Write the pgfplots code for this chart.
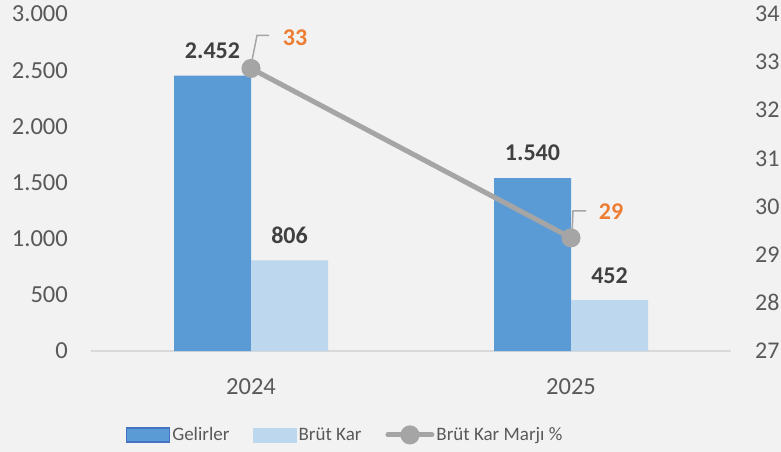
\documentclass[border=0pt]{standalone}
\usepackage{fontspec}
\setmainfont{Carlito}
\usepackage{pgfplots}
\pgfplotsset{compat=1.18}
\definecolor{bgc}{HTML}{F2F2F2}
\definecolor{gel}{HTML}{5B9BD5}
\definecolor{gelb}{HTML}{4472C4}
\definecolor{gelo}{HTML}{8FAADC}
\definecolor{brut}{HTML}{BDD7EE}
\definecolor{lineg}{HTML}{A5A5A5}
\definecolor{orng}{HTML}{ED7D31}
\definecolor{tickc}{HTML}{595959}
\definecolor{labc}{HTML}{404040}
\definecolor{basec}{HTML}{D9D9D9}
\pgfplotsset{
  barleg/.style={legend image code/.code={\draw[##1] (0pt,-7pt) rectangle (43pt,7pt);}},
  lineleg/.style={legend image code/.code={%
    \draw[##1, mark repeat=2, mark phase=2] plot coordinates {(0pt,0pt) (22pt,0pt) (44pt,0pt)};}},
}
\begin{document}
\begin{tikzpicture}[x=1pt,y=1pt]
\fill[bgc] (-91,-101) rectangle (690,351);
\begin{axis}[
  at={(0,0)}, anchor=south west,
  scale only axis, width=640pt, height=337pt,
  xmin=-0.5, xmax=1.5, ymin=0, ymax=3000,
  ybar=0pt, bar width=77pt,
  xtick={0,1}, xticklabels={2024,2025},
  ytick={0,500,...,3000},
  scaled y ticks=false,
  axis x line*=bottom, axis y line*=left,
  x axis line style={draw=basec, line width=1.5pt},
  y axis line style={draw=none},
  tick style={draw=none},
  /pgf/number format/.cd, 1000 sep={.}, assume math mode=true,
  /pgfplots/.cd,
  yticklabel style={anchor=east, inner sep=0pt, xshift=-23pt, font=\fontsize{24.5}{24.5}\selectfont, text=tickc},
  xticklabel style={anchor=center, inner sep=0pt, yshift=-31pt, font=\fontsize{24.5}{24.5}\selectfont, text=tickc},
  nodes near coords,
  every node near coord/.append style={font=\bfseries\fontsize{24}{24}\selectfont, text=labc, anchor=center, yshift=25pt},
]
\addplot[fill=gel, draw=none] coordinates {(0,2452) (1,1540)};
\addplot[fill=brut, draw=none] coordinates {(0,806) (1,452)};
\end{axis}
\begin{axis}[
  at={(0,0)}, anchor=south west,
  scale only axis, width=640pt, height=337pt,
  xmin=-0.5, xmax=1.5, ymin=27, ymax=34,
  axis x line=none, axis y line*=right,
  y axis line style={draw=none},
  tick style={draw=none},
  ytick={27,28,...,34},
  yticklabel style={anchor=west, inner sep=0pt, xshift=24pt, font=\fontsize{24}{24}\selectfont, text=tickc},
  /pgf/number format/assume math mode=true,
  legend columns=3,
  legend style={draw=none, fill=none, at={(0.397,-0.249)}, anchor=center,
    font=\fontsize{19}{19}\selectfont, text=tickc,
    nodes={inner sep=2pt},
    /tikz/every even column/.append style={column sep=22pt}},
]
\addlegendimage{barleg, fill=gel, draw=gelb, line width=1.5pt}
\addlegendentry{Gelirler}
\addlegendimage{barleg, fill=brut, draw=brut, line width=0.1pt}
\addlegendentry{Brüt Kar}
\addplot[lineleg, lineg, line width=5pt, line cap=round, mark=*, mark size=7pt, mark options={fill=lineg, draw=none}] coordinates {(0,32.87) (1,29.35)};
\addlegendentry{Brüt Kar Marjı \%}
\draw[lineg, line width=1.5pt] (axis cs:0,32.87) ++(0pt,3pt) -- ++(6pt,30pt) -- ++(12pt,0pt);
\node[font=\bfseries\fontsize{24}{24}\selectfont, text=orng] at (axis cs:0,32.87) [xshift=44pt, yshift=31pt] {33};
\draw[lineg, line width=1.5pt] (axis cs:1,29.35) ++(1pt,3pt) -- ++(1pt,24pt) -- ++(13pt,0pt);
\node[font=\bfseries\fontsize{24}{24}\selectfont, text=orng] at (axis cs:1,29.35) [xshift=40pt, yshift=26pt] {29};
\end{axis}
\pgfresetboundingbox
\useasboundingbox (-91,-101) rectangle (690,351);
\end{tikzpicture}
\end{document}
